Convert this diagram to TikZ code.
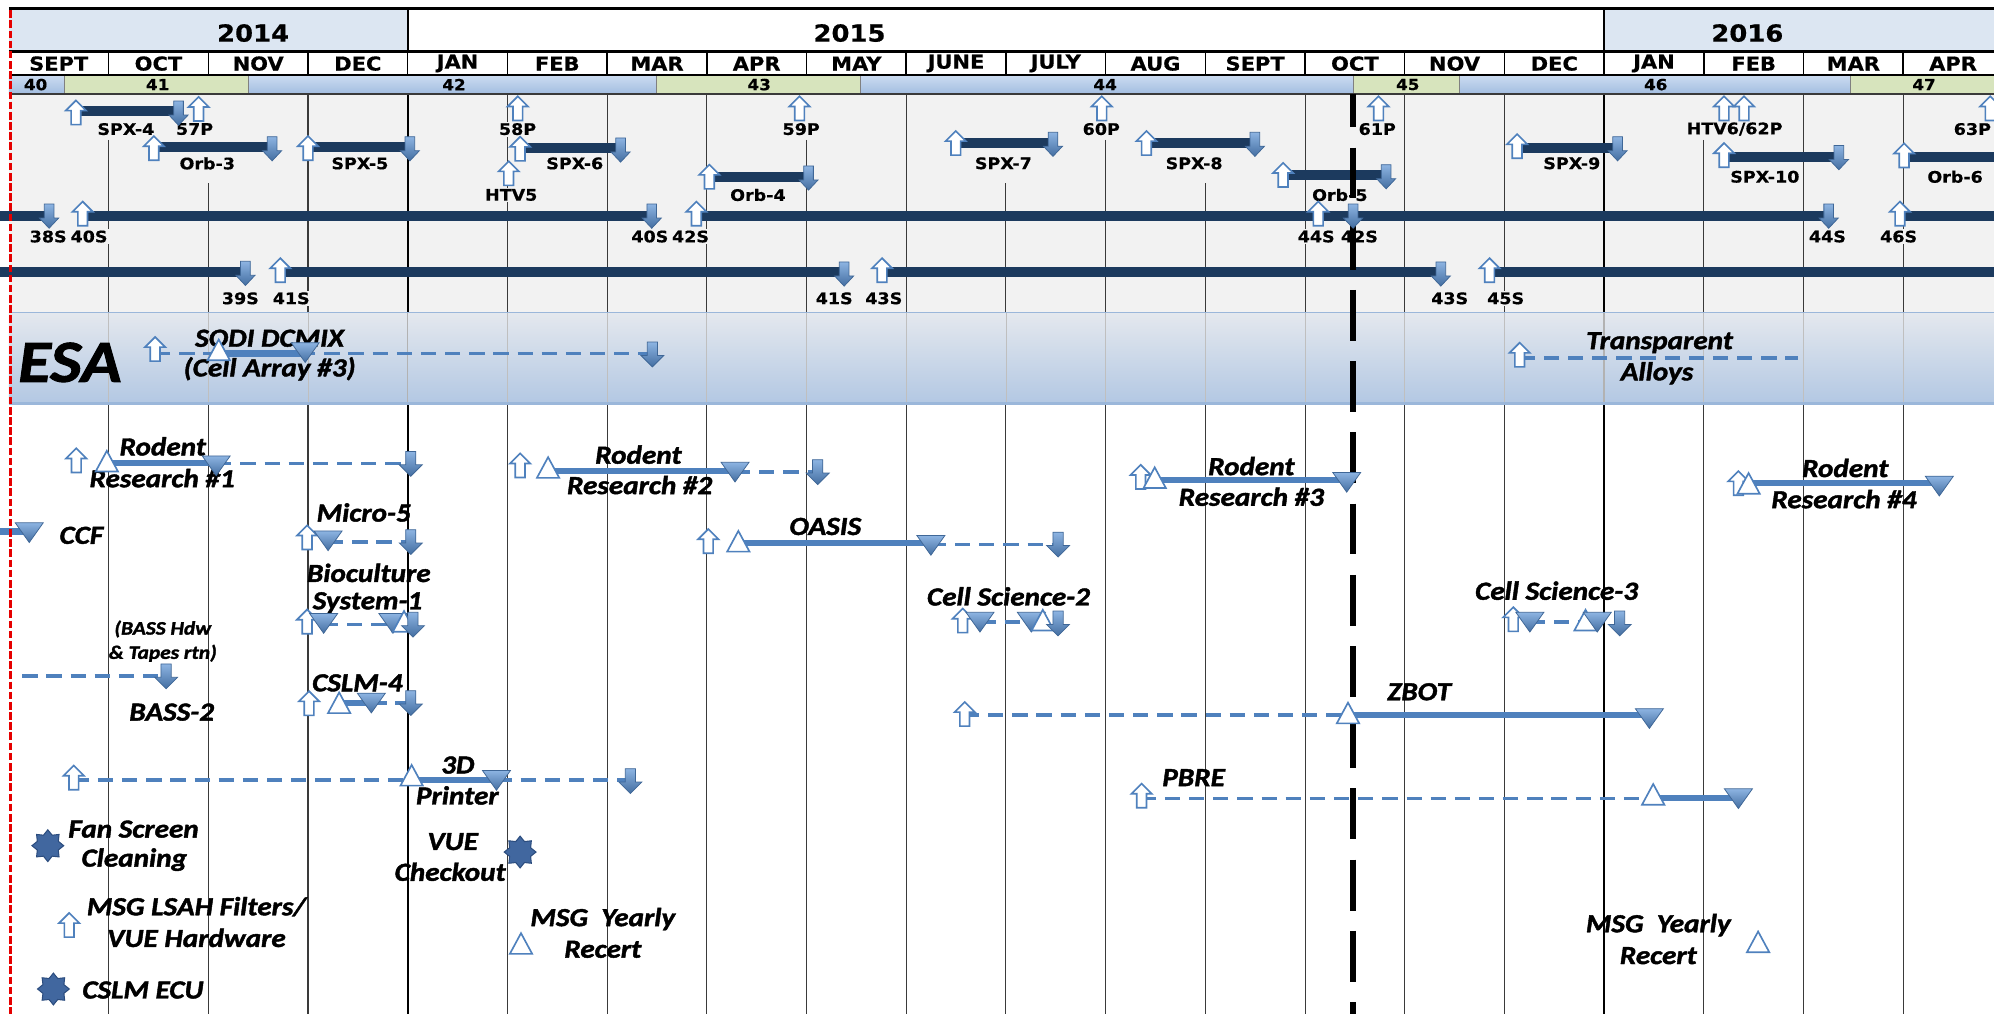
\documentclass[tikz,border=0pt]{standalone}
\usepackage{fontspec}
\setmainfont{DejaVu Sans}
\newfontfamily\verd[FakeStretch=1.1,FakeBold=0.5]{DejaVu Sans}
\newfontfamily\carl[FakeStretch=1.12,FakeBold=1.6]{Carlito}
\usetikzlibrary{shapes.geometric}
\definecolor{navy}{HTML}{1C3A5E}
\definecolor{ablue}{HTML}{4F81BD}
\definecolor{lblue}{HTML}{8DB4E2}
\definecolor{panel}{HTML}{F2F2F2}
\definecolor{yearblue}{HTML}{DCE6F2}
\definecolor{wkblue}{HTML}{A2BDE0}
\definecolor{wkblue2}{HTML}{CCDCF1}
\definecolor{wkgreen}{HTML}{D7E4BD}
\definecolor{esatop}{HTML}{E4E8EE}
\definecolor{esabot}{HTML}{B3C8E3}
\definecolor{esaline}{HTML}{9BB7DA}
\definecolor{gridc}{HTML}{3A3A3A}
\definecolor{starc}{HTML}{41679F}
\definecolor{stard}{HTML}{2B4C7E}
\tikzset{
  upshape/.style={fill=white,draw=ablue,line width=1.3pt,line join=miter},
  dnshape/.style={top color=lblue,bottom color=ablue!85!black,draw=ablue!80!black,line width=0.6pt},
  vup/.pic={\path[upshape] (-3.8,9.5) -- (-3.8,-1.5) -- (-8,-1.5) -- (0,-9.5) -- (8,-1.5) -- (3.8,-1.5) -- (3.8,9.5) -- cycle;},
  vdn/.pic={\path[dnshape] (-3.8,-9.5) -- (-3.8,1.5) -- (-7.5,1.5) -- (0,9.5) -- (7.5,1.5) -- (3.8,1.5) -- (3.8,-9.5) -- cycle;},
  bdn/.pic={\path[dnshape] (-4,-9.5) -- (-4,1) -- (-9,1) -- (0,10) -- (9,1) -- (4,1) -- (4,-9.5) -- cycle;},
  wtri/.pic={\path[upshape] (-8.8,7.8) -- (0,-8.5) -- (8.8,7.8) -- cycle;},
  dtri/.pic={\path[dnshape] (-11,-7.5) -- (11,-7.5) -- (0,8) -- cycle;},
  navybar/.style={draw=navy,line width=8pt},
  sbar/.style={draw=ablue,line width=5pt},
  dbar/.style={draw=ablue,line width=2.8pt,dash pattern=on 12pt off 7pt},
  yearlab/.style={font=\verd\fontsize{18.5}{22}\selectfont\bfseries,inner sep=0pt},
  monlab/.style={font=\verd\fontsize{15}{16}\selectfont\bfseries,inner sep=0pt},
  wklab/.style={font=\verd\fontsize{12}{14}\selectfont\bfseries,inner sep=0pt},
  vlab/.style={font=\verd\fontsize{12.5}{14}\selectfont\bfseries,fill=panel,inner sep=1.2pt},
  elab/.style={font=\carl\fontsize{20.5}{24}\selectfont\bfseries\itshape,inner sep=0pt},
  esmall/.style={font=\carl\fontsize{15}{18}\selectfont\bfseries\itshape,inner sep=0pt},
  starmark/.style={star,star points=8,star point ratio=1.4,minimum size=25pt,inner sep=0pt,fill=starc,draw=stard,line width=0.8pt},
  weekcell/.style={draw=black!50,line width=0.8pt}
}
\begin{document}
\begin{tikzpicture}[x=1pt,y=-1pt]
\useasboundingbox (0,0) rectangle (1568,797);
\fill[white] (0,0) rectangle (1568,797);
\begin{scope}
\clip (0,0) rectangle (1568,797);
% ---------- body panels ----------
\fill[panel] (7,74) rectangle (1575,246);
\shade[top color=esatop,bottom color=esabot] (7,246) rectangle (1575,317);
% ---------- grid lines ----------
\foreach \i/\s in {1/110,2/144,3/74,5/74,6/74,7/74,8/110,9/74,10/144,11/110,12/144,13/74,14/74,15/74,17/110,18/74,19/74} {
  \draw[gridc,line width=0.8pt] ({7+78.4*\i},\s) -- ({7+78.4*\i},246);
  \draw[black!25,line width=0.6pt] ({7+78.4*\i},246) -- ({7+78.4*\i},317);
  \draw[gridc,line width=0.8pt] ({7+78.4*\i},317) -- ({7+78.4*\i},797);
}
\foreach \i in {4,16} {
  \draw[black,line width=1.5pt] ({7+78.4*\i},74) -- ({7+78.4*\i},246);
  \draw[black!30,line width=1pt] ({7+78.4*\i},246) -- ({7+78.4*\i},317);
  \draw[black,line width=1.5pt] ({7+78.4*\i},317) -- ({7+78.4*\i},797);
}
\draw[esaline,line width=1pt] (7,246) -- (1575,246);
\draw[esaline,line width=2.5pt] (7,317) -- (1575,317);
% ---------- header ----------
\fill[yearblue] (7,6.5) rectangle (320.6,40.5);
\fill[yearblue] (1261.4,6.5) rectangle (1575,40.5);
\node[yearlab] (y2014) at (199,26) {2014};
\node[yearlab] (y2015) at (668,26) {2015};
\node[yearlab] (y2016) at (1374,26) {2016};
\foreach \i/\m in {0/SEPT,1/OCT,2/NOV,3/DEC,4/JAN,5/FEB,6/MAR,7/APR,8/MAY,9/JUNE,10/JULY,11/AUG,12/SEPT,13/OCT,14/NOV,15/DEC,16/JAN,17/FEB,18/MAR,19/APR}
  \node[monlab] (mon\i) at ({7+78.4*(\i+0.5)},50) {\m};
\foreach \a/\b in {7/51,195.5/516,677/1064,1147.5/1455}
  \fill[top color=wkblue2,bottom color=wkblue] (\a,59) rectangle (\b,74);
\fill[wkgreen] (51,59) rectangle (195.5,74);
\fill[wkgreen] (516,59) rectangle (677,74);
\fill[wkgreen] (1064,59) rectangle (1147.5,74);
\fill[wkgreen] (1455,59) rectangle (1575,74);
\foreach \a in {51,195.5,516,677,1064,1147.5,1455}
  \draw[weekcell] (\a,59) -- (\a,74);
\node[wklab] (w40) at (28,66.5) {40};
\node[wklab] (w41) at (124,66.5) {41};
\node[wklab] (w42) at (357,66.5) {42};
\node[wklab] (w43) at (597,66.5) {43};
\node[wklab] (w44) at (869,66.5) {44};
\node[wklab] (w45) at (1107,66.5) {45};
\node[wklab] (w46) at (1302,66.5) {46};
\node[wklab] (w47) at (1513,66.5) {47};
\draw[line width=2pt] (7,6.5) -- (1575,6.5);
\draw[line width=2pt] (7,40.5) -- (1575,40.5);
\draw[line width=1.5pt] (7,59) -- (1575,59);
\draw[gridc,line width=1pt] (7,74) -- (1575,74);
\draw[line width=1.5pt] (320.6,6.5) -- (320.6,40.5);
\draw[line width=1.5pt] (1261.4,6.5) -- (1261.4,40.5);
\foreach \i in {1,...,19}
  \draw[line width=1.2pt] ({7+78.4*\i},40.5) -- ({7+78.4*\i},59);
% ---------- vehicle bars ----------
\draw[navybar] (59.7,87) -- (140.4,87);
\draw[navybar] (121,115.5) -- (214,115.5);
\draw[navybar] (242.2,115.5) -- (322.3,115.5);
\draw[navybar] (409,116.6) -- (488,116.6);
\draw[navybar] (557.8,139.4) -- (635.8,139.4);
\draw[navybar] (751.6,112.7) -- (828,112.7);
\draw[navybar] (901.5,112.7) -- (986.8,112.7);
\draw[navybar] (1009,137.6) -- (1090,137.6);
\draw[navybar] (1193,116.6) -- (1272,116.6);
\draw[navybar] (1355.7,123.2) -- (1446,123.2);
\draw[navybar] (1497.3,123.2) -- (1575,123.2);
\draw[navybar] (0,170) -- (38.6,170);
\draw[navybar] (65,170) -- (512.5,170);
\draw[navybar] (547.6,170) -- (1438,170);
\draw[navybar] (1494,170) -- (1575,170);
\draw[navybar] (0,214) -- (193,214);
\draw[navybar] (220.4,214) -- (663.8,214);
\draw[navybar] (693.6,214) -- (1133,214);
\draw[navybar] (1171.3,214) -- (1575,214);
% ---------- vehicle labels ----------
\node[vlab] (lspx4) at (99,101.5) {SPX-4};
\node[vlab] (l57p) at (153,101.5) {57P};
\node[vlab] (l58p) at (407,101.5) {58P};
\node[vlab] (l59p) at (630,101.5) {59P};
\node[vlab] (l60p) at (866,101.5) {60P};
\node[vlab] (l61p) at (1083,101.5) {61P};
\node[vlab] (lhtv6) at (1364,101.5) {HTV6/62P};
\node[vlab] (l63p) at (1551,101.5) {63P};
\node[vlab] (lorb3) at (163,128.5) {Orb-3};
\node[vlab] (lspx5) at (283,128.5) {SPX-5};
\node[vlab] (lspx6) at (452,128.5) {SPX-6};
\node[vlab] (lhtv5) at (402,153.3) {HTV5};
\node[vlab] (lorb4) at (596,153.3) {Orb-4};
\node[vlab] (lspx7) at (789,128.4) {SPX-7};
\node[vlab] (lspx8) at (939,128.4) {SPX-8};
\node[vlab] (lorb5) at (1053.6,153.3) {Orb-5};
\node[vlab] (lspx9) at (1236,128.4) {SPX-9};
\node[vlab] (lspx10) at (1387.8,139) {SPX-10};
\node[vlab] (lorb6) at (1537.4,139) {Orb-6};
\node[vlab] (l38s) at (37.9,186) {38S};
\node[vlab] (l40sa) at (70,186) {40S};
\node[vlab] (l40sb) at (511,186) {40S};
\node[vlab] (l42sa) at (543,186) {42S};
\node[vlab] (l44sa) at (1035,186) {44S};
\node[vlab] (l42sb) at (1069,186) {42S};
\node[vlab] (l44sb) at (1437,186) {44S};
\node[vlab] (l46s) at (1493,186) {46S};
\node[vlab] (l39s) at (189,234.6) {39S};
\node[vlab] (l41sa) at (229,234.6) {41S};
\node[vlab] (l41sb) at (656,234.6) {41S};
\node[vlab] (l43sa) at (695,234.6) {43S};
\node[vlab] (l43sb) at (1140,234.6) {43S};
\node[vlab] (l45s) at (1184,234.6) {45S};
% ---------- lower lines ----------
\draw[dbar] (122,278) -- (513,278);
\draw[sbar] (172,278) -- (240,278);
\draw[dbar] (1195,281.7) -- (1414,281.7);
\draw[sbar] (84,364) -- (170,364);
\draw[dbar] (170,364.5) -- (323,364.5);
\draw[sbar] (431,370.5) -- (578,370.5);
\draw[dbar] (578,371) -- (643,371);
\draw[sbar] (908,377.5) -- (1059,377.5);
\draw[sbar] (1375,380) -- (1525,380);
\draw[sbar] (0,418) -- (23,418);
\draw[dbar] (258,426) -- (323,426);
\draw[sbar] (580,427) -- (732,427);
\draw[dbar] (732,428) -- (832,428);
\draw[dbar] (254,491) -- (325,491);
\draw[dbar] (771,489) -- (811,489);
\draw[dbar] (1203,489) -- (1256,489);
\draw[dbar] (17.5,531.6) -- (130,531.6);
\draw[sbar] (266,552.6) -- (292,552.6);
\draw[dbar] (292,552.6) -- (323,552.6);
\draw[dbar] (758,562.3) -- (1060,562.3);
\draw[sbar] (1060,562.3) -- (1297,562.3);
\draw[dbar] (58,613.4) -- (323.7,613.4);
\draw[sbar] (323.7,613.4) -- (390.4,613.4);
\draw[dbar] (390.4,613.4) -- (495.7,613.4);
\draw[dbar] (897,627.8) -- (1300,627.8);
\draw[sbar] (1300,627.3) -- (1367,627.3);
% ---------- lower labels ----------
\node[font=\carl\fontsize{47}{50}\selectfont\bfseries\itshape,inner sep=0pt] (esa) at (55,285) {ESA};
\node[elab] (sodia) at (212,266) {SODI DCMIX};
\node[elab] (sodib) at (212,290) {(Cell Array \#3)};
\node[elab] (taa) at (1305,269.5) {Transparent};
\node[elab] (tab) at (1303,293.5) {Alloys};
\node[elab] (rr1a) at (128,351) {Rodent};
\node[elab] (rr1b) at (127.5,376) {Research \#1};
\node[elab] (rr2a) at (502,357.5) {Rodent};
\node[elab] (rr2b) at (503,381.4) {Research \#2};
\node[elab] (rr3a) at (984,366.5) {Rodent};
\node[elab] (rr3b) at (984,390.6) {Research \#3};
\node[elab] (rr4a) at (1451,368) {Rodent};
\node[elab] (rr4b) at (1450,392.5) {Research \#4};
\node[elab] (ccf) at (64,421) {CCF};
\node[elab] (micro) at (286,403) {Micro-5};
\node[elab] (oasis) at (649,414) {OASIS};
\node[elab] (bioa) at (290,450.5) {Bioculture};
\node[elab] (biob) at (289,474) {System-1};
\node[elab] (cs2) at (793,469) {Cell Science-2};
\node[elab] (cs3) at (1224,464.5) {Cell Science-3};
\node[esmall] (bassa) at (128,494.6) {(BASS Hdw};
\node[esmall] (bassb) at (128,513.7) {\& Tapes rtn)};
\node[elab] (bass2) at (135,560) {BASS-2};
\node[elab] (cslm4) at (281,537) {CSLM-4};
\node[elab] (zbot) at (1116,544) {ZBOT};
\node[elab] (p3da) at (360,601.6) {3D};
\node[elab] (p3db) at (359.6,625.5) {Printer};
\node[elab] (pbre) at (938.6,611.5) {PBRE};
\node[elab] (fana) at (105,652) {Fan Screen};
\node[elab] (fanb) at (105.6,676) {Cleaning};
\node[elab] (vuea) at (356,661.8) {VUE};
\node[elab] (vueb) at (354,685.5) {Checkout};
\node[elab] (lsaha) at (154.5,713) {MSG LSAH Filters/};
\node[elab] (lsahb) at (154.5,737.5) {VUE Hardware};
\node[elab] (msg1a) at (474,722.7) {MSG\ \ Yearly};
\node[elab] (msg1b) at (474,746.5) {Recert};
\node[elab] (msg2a) at (1304,727.5) {MSG\ \ Yearly};
\node[elab] (msg2b) at (1304,751.5) {Recert};
\node[elab] (ecu) at (112.4,778.5) {CSLM ECU};
% ---------- current-date line ----------
\draw[black,line width=5pt,dash pattern=on 40pt off 16pt,dash phase=14pt] (1064,74) -- (1064,797);
% ---------- vehicle arrows ----------
\pic at (59.7,88.5) {vup}; \pic at (140.4,89) {vdn};
\pic at (156.2,85.7) {vup};
\pic at (407.2,85.2) {vup};
\pic at (628.7,85.2) {vup};
\pic at (866.4,85.2) {vup};
\pic at (1084,85.2) {vup};
\pic at (1355.7,85.2) {vup}; \pic at (1371.4,85.2) {vup};
\pic at (1565,85.2) {vup};
\pic at (121,116.5) {vup}; \pic at (214,117) {vdn};
\pic at (242.2,116.5) {vup}; \pic at (322.3,117) {vdn};
\pic at (409,117) {vup}; \pic at (488,118) {vdn};
\pic at (400,136.3) {vup};
\pic at (557.8,139) {vup}; \pic at (635.8,140) {vdn};
\pic at (751.6,112.5) {vup}; \pic at (828,113.5) {vdn};
\pic at (901.5,112.5) {vup}; \pic at (986.8,113.5) {vdn};
\pic at (1009,137.6) {vup}; \pic at (1090,139) {vdn};
\pic at (1193,115) {vup}; \pic at (1272,117) {vdn};
\pic at (1355.7,122) {vup}; \pic at (1446,124) {vdn};
\pic at (1497.3,122.2) {vup};
\pic at (38.6,170) {vdn};
\pic at (65,168) {vup}; \pic at (512.5,170) {vdn};
\pic at (547.6,168) {vup}; \pic at (1036.6,168) {vup}; \pic at (1064,170) {vdn}; \pic at (1438,170) {vdn};
\pic at (1494,168) {vup};
\pic at (193,215) {vdn};
\pic at (220.4,212.5) {vup}; \pic at (663.8,215.5) {vdn};
\pic at (693.6,212.5) {vup}; \pic at (1133,215.5) {vdn};
\pic at (1171.3,212.5) {vup};
% ---------- lower shapes ----------
\pic at (122,274.5) {vup}; \pic at (172,275.5) {wtri}; \pic at (240,277) {dtri}; \pic at (513,278.5) {bdn};
\pic at (1195,279) {vup};
\pic at (60,362) {vup}; \pic at (84,363) {wtri}; \pic at (170,366) {dtri}; \pic at (323,364.5) {bdn};
\pic at (409,366) {vup}; \pic at (431,368) {wtri}; \pic at (578,371) {dtri}; \pic at (643,371) {bdn};
\pic at (897,375) {vup}; \pic at (908,376) {wtri}; \pic at (1059,379) {dtri};
\pic at (1367,380) {vup}; \pic at (1375,380.5) {wtri}; \pic at (1525,382) {dtri};
\pic at (23,418.6) {dtri};
\pic at (241.5,422.6) {vup}; \pic at (258,425) {dtri}; \pic at (323,426) {bdn};
\pic at (557,425.5) {vup}; \pic at (580.6,426) {wtri}; \pic at (732,428.6) {dtri}; \pic at (832,428) {bdn};
\pic at (241.5,488.8) {vup}; \pic at (254.5,490) {dtri}; \pic at (309,490) {dtri}; \pic at (317.7,489) {wtri}; \pic at (324.7,491) {bdn};
\pic at (757,488) {vup}; \pic at (770.6,489) {dtri}; \pic at (811,489) {dtri}; \pic at (820,488) {wtri}; \pic at (832,490) {bdn};
\pic at (1190,487) {vup}; \pic at (1203,489) {dtri}; \pic at (1246.8,488) {wtri}; \pic at (1256,489) {dtri}; \pic at (1273.6,490) {bdn};
\pic at (130.6,531.6) {bdn};
\pic at (243,553) {vup}; \pic at (266.7,553) {wtri}; \pic at (292,552.6) {dtri}; \pic at (323,552.6) {bdn};
\pic at (758.6,561.5) {vup}; \pic at (1060,561) {wtri}; \pic at (1297,564.8) {dtri};
\pic at (58,611.5) {vup}; \pic at (323.7,610) {wtri}; \pic at (390.4,613.4) {dtri}; \pic at (495.7,614) {bdn};
\pic at (897.7,625.7) {vup}; \pic at (1300,625) {wtri}; \pic at (1367,627.8) {dtri};
\node[starmark] (fanstar) at (37.6,665) {};
\node[starmark] (vuestar) at (409,670) {};
\node[starmark] (ecustar) at (42,777.7) {};
\pic at (54.4,727.4) {vup};
\pic at (409.7,742.3) {wtri};
\pic at (1382.5,741) {wtri};
% ---------- left red edge ----------
\draw[red!90!black,line width=2.5pt,dash pattern=on 6pt off 2pt] (8,8) -- (8,797);
\end{scope}
\end{tikzpicture}
\end{document}
